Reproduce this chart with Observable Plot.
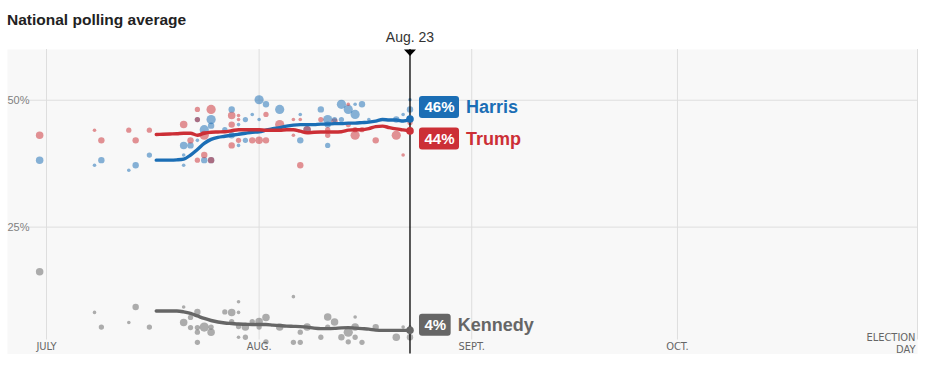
<!DOCTYPE html>
<html>
<head>
<meta charset="utf-8">
<script src="https://cdn.jsdelivr.net/npm/d3@7"></script>
<script src="https://cdn.jsdelivr.net/npm/@observablehq/plot@0.6"></script>
<style>
  html, body { margin: 0; padding: 0; background: #ffffff; }
  body { width: 936px; height: 366px; position: relative; overflow: hidden; }
  #title { position: absolute; left: 7px; top: 11px; font: bold 15.5px "Liberation Sans", Arial, sans-serif; color: #222; white-space: nowrap; }
  #chart { position: absolute; left: 0; top: 26px; }
</style>
</head>
<body>
<div id="title">National polling average</div>
<div id="chart"></div>
<script>
// ---------------- DATA ----------------
const names = ["Harris", "Trump", "Kennedy"];
const pctLabels = ["46%", "44%", "4%"];
const currentDate = "2024-08-23";
const currentLabel = "Aug. 23";

const yTicks = [25, 50];
const yTickLabels = ["25%", "50%"];
const monthTickDates = ["2024-07-01", "2024-08-01", "2024-09-01", "2024-10-01"];
const monthTickLabels = ["JULY", "AUG.", "SEPT.", "OCT."];
const electionDate = "2024-11-05";
const electionLabel = "ELECTION\nDAY";

// individual polls
const harrisPollDates = ["2024-06-30","2024-07-08","2024-07-09","2024-07-13","2024-07-14","2024-07-16","2024-07-21","2024-07-21","2024-07-21","2024-07-22","2024-07-23","2024-07-23","2024-07-24","2024-07-24","2024-07-25","2024-07-25","2024-07-25","2024-07-27","2024-07-28","2024-07-28","2024-07-29","2024-07-29","2024-07-30","2024-07-30","2024-07-31","2024-08-01","2024-08-01","2024-08-02","2024-08-04","2024-08-07","2024-08-07","2024-08-08","2024-08-10","2024-08-11","2024-08-11","2024-08-11","2024-08-12","2024-08-13","2024-08-13","2024-08-14","2024-08-15","2024-08-15","2024-08-16","2024-08-17","2024-08-21","2024-08-22","2024-08-23","2024-08-23","2024-08-23"];
const harrisPollValues = [38.2,37.2,38.2,36.2,37.2,39.2,41.1,39.2,37.2,41.1,42.1,46.2,44.2,38.2,46.2,45.0,38.2,44.2,48.2,43.1,45.2,41.1,46.2,42.1,47.2,50.1,46.2,49.2,48.2,47.2,42.1,44.2,48.2,46.2,45.2,41.1,46.2,49.2,46.2,48.2,49.2,47.2,49.2,46.2,46.2,47.2,50.1,48.2,46.2];
const harrisPollWeights = [2.4,1,2,1,2,1.6,2.4,1,1,2,1,1.6,3,2,3,2,2,1.6,2,2,1,1,1.6,1.6,1,3,1,2,3,1,2,2.4,2,3,2,1.6,1.6,3,1.6,3,1,3,2,1,2,1,1,2,1.6];

const trumpPollDates = ["2024-06-30","2024-07-08","2024-07-09","2024-07-13","2024-07-14","2024-07-16","2024-07-21","2024-07-22","2024-07-23","2024-07-23","2024-07-23","2024-07-24","2024-07-24","2024-07-25","2024-07-25","2024-07-28","2024-07-28","2024-07-28","2024-07-29","2024-07-29","2024-07-29","2024-07-31","2024-08-01","2024-08-02","2024-08-02","2024-08-04","2024-08-06","2024-08-06","2024-08-07","2024-08-07","2024-08-08","2024-08-10","2024-08-11","2024-08-11","2024-08-12","2024-08-14","2024-08-14","2024-08-15","2024-08-15","2024-08-16","2024-08-18","2024-08-21","2024-08-22","2024-08-23"];
const trumpPollValues = [43.1,44.1,42.1,44.1,42.1,44.1,45.2,42.1,48.2,46.2,38.2,43.1,39.2,48.2,38.2,47.0,45.2,41.1,47.0,46.2,42.1,42.1,42.1,47.2,42.1,45.2,46.2,43.1,46.2,37.2,44.2,46.2,44.2,43.1,45.8,49.2,45.2,44.2,43.1,44.2,42.1,43.1,39.2,45.6];
const trumpPollWeights = [2.4,1,2,1.6,2,1.6,2.4,2,1.6,1.6,1.6,3,2,3,2,2.4,2,2,1,1,1.6,2,2.4,1.6,2,3,1,1,1,2,2.4,1.6,1.6,1.6,2,1,1.6,1.6,3,1.6,2,3,1,1.6];

const kennedyPollDates = ["2024-06-30","2024-07-08","2024-07-09","2024-07-13","2024-07-14","2024-07-16","2024-07-21","2024-07-21","2024-07-22","2024-07-22","2024-07-23","2024-07-23","2024-07-23","2024-07-23","2024-07-24","2024-07-25","2024-07-25","2024-07-27","2024-07-28","2024-07-28","2024-07-29","2024-07-29","2024-07-29","2024-07-29","2024-07-30","2024-07-30","2024-07-31","2024-08-01","2024-08-01","2024-08-02","2024-08-02","2024-08-04","2024-08-06","2024-08-06","2024-08-07","2024-08-07","2024-08-08","2024-08-10","2024-08-11","2024-08-11","2024-08-12","2024-08-13","2024-08-14","2024-08-14","2024-08-15","2024-08-15","2024-08-15","2024-08-16","2024-08-18","2024-08-21","2024-08-22","2024-08-23","2024-08-23"];
const kennedyPollValues = [16.2,8.2,5.3,6.2,9.25,5.3,9.25,6.2,7.2,5.2,8.3,5.2,4.3,2.3,5.3,4.3,5.3,8.3,8.2,6.4,10.3,8.2,5.4,3.3,5.3,3.3,6.4,6.4,5.3,7.2,2.4,5.3,11.3,2.3,2.3,4.3,5.3,3.3,7.3,5.3,6.3,3.3,4.3,2.4,5.3,7.3,3.3,2.3,5.3,3.3,5.3,3.3,5.3];
const kennedyPollWeights = [2.4,1,1.6,1,2,1.6,1,2.4,1.6,1.6,2,1.6,1.6,1.6,3,2.4,1.6,1.6,2.4,1.6,1,1,1.6,1,2.4,1.6,1.6,2.4,1.6,2.4,1.6,2.4,1,1.6,1.6,1.6,2.4,1.6,2.4,1.6,2.4,2,3,1.6,2.4,1,1.6,1.6,2,2.4,1,2,1];

// daily polling averages, July 17 - Aug. 23
const harrisAverage = [38.2,38.2,38.2,38.25,38.4,39.2,40.3,41.5,42.3,42.7,42.9,43.1,43.3,43.5,43.7,
  43.8,44.1,44.4,44.6,44.9,45.1,45.2,45.2,45.2,45.3,45.3,45.4,45.4,45.5,45.5,45.6,45.7,45.9,46.2,46.1,46.1,45.9,46.3];
const trumpAverage = [43.25,43.3,43.35,43.4,43.5,43.5,43.1,43.5,43.7,43.75,43.8,44.0,44.2,44.2,44.2,
  44.2,44.1,44.1,44.1,44.2,44.2,43.9,43.6,43.7,43.75,43.75,43.75,43.8,44.1,44.2,44.2,44.4,44.8,44.9,44.6,44.35,44.15,43.96];
const kennedyAverage = [8.46,8.46,8.46,8.46,8.3,8.0,7.5,7.0,6.6,6.3,6.1,6.0,5.9,5.85,5.8,
  5.8,5.8,5.7,5.6,5.5,5.45,5.4,5.3,5.1,5.0,5.0,5.05,5.15,5.2,5.1,5.0,4.9,4.7,4.65,4.65,4.65,4.65,4.66];
const averageStart = "2024-07-17";

// ---------------- STYLE / LAYOUT ----------------
const colors = ["#1b6eb5", "#cc2f36", "#666666"];
const labelDy = { Harris: -11.5, Trump: 8, Kennedy: -5 };
const sans = "'Liberation Sans', Arial, sans-serif";
const narrow = "'Liberation Sans Narrow', 'Arial Narrow', 'DejaVu Sans Condensed', sans-serif";

// ---------------- BUILD ----------------
const toDate = s => new Date(s + "T00:00:00Z");
const pollRows = (name, dates, values, weights) =>
  dates.map((d, i) => ({ name, date: toDate(d), value: values[i], w: weights[i] }));
const polls = [
  ...pollRows("Harris", harrisPollDates, harrisPollValues, harrisPollWeights),
  ...pollRows("Trump", trumpPollDates, trumpPollValues, trumpPollWeights),
  ...pollRows("Kennedy", kennedyPollDates, kennedyPollValues, kennedyPollWeights)
];
const avgSeries = { Harris: harrisAverage, Trump: trumpAverage, Kennedy: kennedyAverage };
const avgDays = d3.utcDay.range(toDate(averageStart), d3.utcDay.offset(toDate(currentDate), 1));
const averages = names.flatMap(n => avgSeries[n].map((v, i) => ({ name: n, date: avgDays[i], value: v })));
const current = toDate(currentDate);
const lastRows = names.map((n, i) => ({ name: n, date: current, value: avgSeries[n][avgSeries[n].length - 1], pct: pctLabels[i] }));

const ctx = document.createElement("canvas").getContext("2d");
ctx.font = "bold 15px " + sans;
const measure = s => ctx.measureText(s).width;

const downTriangle = {
  draw(context) { context.moveTo(-6, 0); context.lineTo(6, 0); context.lineTo(0, 6.5); context.closePath(); }
};

const labelMarks = names.flatMap((n, i) => {
  const row = [lastRows[i]];
  const w = measure(pctLabels[i]);
  const dy = labelDy[n];
  return [
    Plot.rect(row, { x1: "date", x2: "date", y1: "value", y2: "value", fill: colors[i], rx: 3,
      insetLeft: 9.5, insetRight: -(9.5 + w + 10), insetTop: dy - 11, insetBottom: -(dy + 11) }),
    Plot.text(row, { x: "date", y: "value", text: "pct", dx: 14.5, dy, textAnchor: "start", lineAnchor: "middle",
      fill: "#fff", fontWeight: "bold", fontSize: 15, fontFamily: sans }),
    Plot.text(row, { x: "date", y: "value", text: "name", dx: 9.5 + w + 10 + 6.5, dy, textAnchor: "start", lineAnchor: "middle",
      fill: colors[i], fontWeight: "bold", fontSize: 18, fontFamily: sans })
  ];
});

const chart = Plot.plot({
  width: 936,
  height: 340,
  marginTop: 23,
  marginBottom: 12.5,
  marginLeft: 7,
  marginRight: 19,
  x: { type: "utc", domain: [new Date(Date.UTC(2024, 5, 25, 7, 30)), toDate(electionDate)], axis: null },
  y: { domain: [0, 60], axis: null },
  r: { type: "linear", domain: [1, 3], range: [1.8, 4.6] },
  color: { domain: names, range: colors },
  style: { fontFamily: sans, background: "transparent", overflow: "visible" },
  marks: [
    Plot.frame({ fill: "#f8f8f8", stroke: "none" }),
    Plot.ruleY(yTicks, { y: d => d, stroke: "#dedede", insetLeft: 22 }),
    Plot.ruleX([...monthTickDates, electionDate].map(toDate), { x: d => d, stroke: "#dedede", insetBottom: 14 }),
    Plot.text(yTicks, { y: d => d, frameAnchor: "left", text: (d, i) => yTickLabels[i], textAnchor: "start",
      fill: "#808080", fontSize: 11, fontFamily: sans }),
    Plot.text(monthTickDates.map(toDate), { x: d => d, y: () => 0, text: (d, i) => monthTickLabels[i], dy: -7.5,
      lineAnchor: "middle", fill: "#666", fontSize: 11, fontFamily: narrow }),
    Plot.text([toDate(electionDate)], { x: d => d, y: () => 0, text: () => electionLabel, dx: -2, dy: -1.5,
      textAnchor: "end", lineAnchor: "bottom", lineHeight: 1.05, fill: "#666", fontSize: 11, fontFamily: narrow }),
    Plot.dot(polls, { x: "date", y: "value", r: "w", fill: "name", fillOpacity: 0.52, stroke: "none" }),
    Plot.line(averages, { x: "date", y: "value", z: "name", stroke: "name", strokeWidth: 3.4, curve: "monotone-x" }),
    Plot.ruleX([current], { x: d => d, stroke: "#000", strokeWidth: 1.3 }),
    Plot.dot([current], { x: d => d, y: () => 60, symbol: downTriangle, fill: "#000", stroke: "none" }),
    Plot.text([current], { x: d => d, y: () => 60, text: () => currentLabel, dy: -12, lineAnchor: "middle",
      fill: "#333", fontSize: 14, fontFamily: sans }),
    Plot.dot(lastRows, { x: "date", y: "value", fill: "name", r: 3.8, stroke: "none" }),
    ...labelMarks
  ]
});
document.getElementById("chart").appendChild(chart);
</script>
</body>
</html>
